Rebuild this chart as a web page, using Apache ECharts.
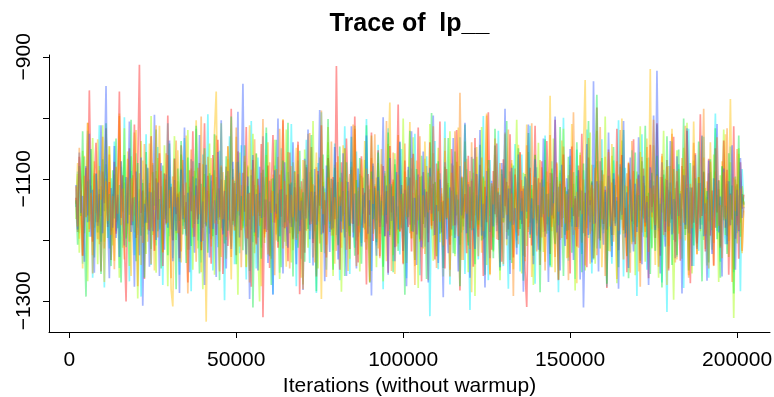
<!DOCTYPE html>
<html>
<head>
<meta charset="utf-8">
<script src="https://cdn.jsdelivr.net/npm/echarts@6/dist/echarts.min.js"></script>
<style>html,body{margin:0;padding:0;background:#fff;}#c{width:774px;height:397px;}</style>
</head>
<body>
<div id="c"></div>
<script>
// Iteration range (without warmup)
const firstIter = 2000;
const lastIter = 202000;
const xTicks = [0, 50000, 100000, 150000, 200000];
const yTicks = [-900, -1000, -1100, -1200, -1300];
const yTickLabels = [-900, -1100, -1300];

// lp__ draws per chain (read/estimated from the picture)
const chainRed = [
-1131,-1187,-1064,-1109,-1226,-1145,-1082,-1160,-955,-1118,-1203,-1097,-1041,-1171,-1125,-1252,-1088,-1140,-1017,-1179,
-1105,-1233,-1151,-1072,-1190,-1116,-957,-1164,-1094,-1208,-1301,-1127,-1050,-1176,-1139,-1011,-1197,-1083,-913,-1156,
-1119,-1264,-1076,-1142,-1185,-1030,-1128,-1218,-1099,-1167,-1058,-1136,-1243,-1091,-1173,-996,-1148,-1113,-1201,-1067,
-1158,-1124,-1230,-1045,-1102,-1182,-1138,-1270,-1086,-1153,-1022,-1195,-1111,-1166,-1074,-1217,-1133,-1009,-1178,-1095,
-1147,-1239,-1061,-1120,-1192,-1036,-1163,-1101,-1256,-1129,-1080,-1210,-1143,-985,-1169,-1107,-1225,-1055,-1137,-1184,
-1090,-1154,-1015,-1198,-1123,-1277,-1069,-1145,-1206,-1100,-1161,-1043,-1327,-1134,-1187,-1078,-1246,-1115,-1028,-1172,
-1141,-1213,-1093,-1162,-1004,-1181,-1126,-1235,-1057,-1150,-1199,-1114,-1170,-1039,-1289,-1104,-1157,-1221,-1081,-1132,
-1175,-1048,-1205,-1121,-1260,-1087,-1144,-1012,-1189,-1135,-1229,-1066,-1117,-1183,-1097,-1166,-915,-1138,-1249,-1073,
-1152,-1196,-1034,-1130,-1215,-1085,-1174,-998,-1143,-1237,-1106,-1063,-1180,-1123,-1273,-1092,-1159,-1024,-1202,-1112,
-1168,-1053,-1227,-1139,-1079,-1194,-1120,-1254,-1046,-1155,-1101,-1212,-1133,-978,-1186,-1110,-1240,-1070,-1149,-1179,
-1098,-1219,-1059,-1127,-1191,-1016,-1146,-1268,-1089,-1163,-1121,-1204,-1040,-1177,-1108,-1232,-1075,-1153,-1006,-1188,
-1136,-1247,-1084,-1160,-1208,-1051,-1118,-1176,-1020,-1142,-1283,-1096,-1165,-1125,-1222,-1062,-1181,-1103,-1244,-1033,
-1150,-1195,-1077,-1134,-1259,-1113,-1171,-991,-1140,-1216,-1087,-1158,-1042,-1200,-1126,-1236,-1068,-1145,-1105,-1183,
-1027,-1162,-1229,-1093,-1137,-1193,-1056,-1174,-1116,-1251,-1310,-1129,-1082,-1209,-1147,-1013,-1168,-1099,-1241,-1071,
-1156,-1186,-1038,-1124,-1223,-1091,-1165,-1003,-1141,-1266,-1108,-1179,-1060,-1135,-1199,-1117,-1255,-1047,-1161,-1132,
-1211,-1078,-1152,-1026,-1189,-1123,-1245,-1065,-1143,-1106,-1230,-1168,-983,-1131,-1201,-1086,-1174,-1118,-1279,-1052,
-1139,-1192,-1100,-1163,-1018,-1217,-1127,-1061,-1184,-1148,-1253,-1074,-1115,-1170,-1035,-1207,-1135,-1094,-1238,-1157,
-1083,-1178,-1128,-1263,-1044,-1146,-1111,-1197,-1009,-1160,-1226,-1097,-1137,-1187,-1069,-1250,-1121,-1166,-1031,-1203,
-1104,-1154,-1234,-1079,-1132,-1182,-1021,-1144,-1271,-1114,-1172,-1058,-1206,-1129,-994,-1161,-1089,-1219,-1148,-1067,
-1193,-1119,-1242,-1050,-1155,-1102,-1213,-1138,-1037,-1180,-1085,-1257,-1124,-1167,-1014,-1198,-1109,-1231,-1073,-1149,
-1126];
const chainOrange = [
-1112,-1178,-1049,-1141,-1226,-1095,-1163,-1008,-1187,-1123,-1255,-1071,-1150,-1199,-1086,-1134,-1031,-1214,-1104,-1169,
-1060,-1192,-1128,-1248,-1080,-1157,-993,-1176,-1116,-1232,-1145,-1067,-1203,-1099,-1170,-1024,-1138,-1276,-1091,-1160,
-1205,-1043,-1125,-1183,-1107,-1240,-1074,-1151,-1012,-1196,-1133,-1087,-1221,-1155,-1058,-1172,-1118,-1263,-1096,-1146,
-1037,-1189,-1121,-1219,-1069,-1164,-1106,-1288,-1139,-1052,-1180,-1127,-1236,-1082,-1158,-998,-1202,-1113,-1171,-1064,
-1148,-1211,-1093,-1173,-1029,-1135,-1252,-1078,-1166,-1119,-1195,-1046,-1142,-1228,-1101,-1184,-1016,-1153,-1090,-1245,
-1131,-1062,-1197,-1124,-1270,-1085,-1161,-1035,-1208,-1110,-1177,-1143,-1002,-1190,-1097,-1224,-1073,-1156,-1120,-1258,
-1084,-1167,-1018,-1140,-1214,-1103,-1179,-1056,-1247,-1126,-1163,-1089,-1200,-1044,-1152,-1117,-1281,-1070,-1185,-1136,
-1025,-1174,-1109,-1237,-1081,-1149,-1206,-988,-1158,-1122,-1261,-1098,-1170,-1039,-1193,-1130,-1218,-1063,-1145,-1105,
-1182,-1050,-1216,-1137,-1092,-1173,-1011,-1154,-1243,-1114,-1188,-1068,-1129,-1204,-1083,-1166,-1268,-1100,-1141,-1027,
-1198,-1119,-1230,-1076,-1160,-1134,-1005,-1186,-1108,-1251,-1057,-1148,-1211,-1093,-1175,-1125,-1238,-1042,-1162,-1111,
-1189,-1066,-1143,-1274,-1102,-1168,-1030,-1201,-1127,-1223,-1079,-1155,-1096,-1183,-1014,-1138,-1246,-1087,-1171,-1115,
-1209,-1054,-1164,-1132,-1260,-1090,-1177,-1022,-1146,-1194,-959,-1121,-1233,-1072,-1157,-1105,-1215,-1040,-1181,-1139,
-1094,-1227,-1150,-1065,-1186,-1116,-996,-1167,-1256,-1107,-1142,-1034,-1199,-1128,-1074,-1176,-1240,-1099,-1159,-1019,
-1170,-1124,-1292,-1083,-1145,-1207,-1058,-1153,-1112,-1235,-1045,-1187,-1131,-1009,-1165,-1097,-1219,-1137,-1069,-1196,
-1113,-1250,-1088,-1162,-1028,-1179,-1140,-1228,-1075,-1154,-1103,-1197,-1047,-1173,-1125,-1266,-1085,-1147,-991,-1184,
-1121,-1213,-1061,-1158,-1101,-1242,-1136,-1033,-1190,-1110,-1174,-1082,-1225,-1149,-1015,-1166,-1093,-1259,-1129,-1056,
-1178,-1106,-1203,-1144,-1071,-1185,-1020,-1160,-1232,-1117,-1091,-1168,-1254,-1038,-1139,-1195,-1100,-1152,-1277,-1064,
-1133,-1187,-1048,-1220,-1115,-1163,-1003,-1176,-1095,-1244,-1128,-1059,-1192,-1142,-1080,-1210,-1120,-1026,-1169,-1237,
-1087,-1151,-1199,-1066,-1172,-1013,-1138,-1262,-1108,-1181,-1041,-1157,-1224,-1097,-1164,-1118,-985,-1191,-1134,-1247,
-1072,-1159,-1205,-1111,-1032,-1177,-1143,-1230,-1089,-1166,-1017,-1202,-1126,-1269,-1098,-1153,-1051,-1184,-1116,-1218,
-1137];
const chainGold = [
-1141,-1074,-1198,-1119,-1247,-1062,-1163,-1008,-1182,-1128,-1225,-1091,-1156,-1035,-1207,-1112,-1173,-1269,-1099,-1150,
-1046,-1186,-1125,-1234,-1081,-1168,-997,-1145,-1213,-1106,-1177,-1055,-1139,-1259,-1094,-1160,-1020,-1192,-1117,-1241,
-1070,-1154,-1130,-1203,-1042,-1180,-1114,-1250,-1087,-1166,-1013,-1137,-1220,-1100,-1175,-1061,-1148,-1282,-1309,-1123,
-1189,-1053,-1158,-1237,-1108,-1171,-1029,-1143,-1216,-1083,-1195,-1134,-1004,-1167,-1101,-1253,-1076,-1152,-1334,-1120,
-1181,-1066,-1140,-1022,-957,-1174,-1115,-1228,-1089,-1160,-1200,-1047,-1133,-1265,-1097,-1185,-1031,-1149,-1211,-1110,
-1169,-1072,-1245,-1127,-1012,-1183,-1103,-1222,-1059,-1155,-1136,-1276,-1085,-1196,-1117,-1040,-1164,-1231,-1093,-1146,
-1201,-1064,-1178,-1121,-1002,-1157,-1244,-1108,-1173,-1079,-1217,-1138,-1049,-1190,-1113,-1262,-1069,-1161,-1132,-1026,
-1185,-1097,-1229,-1144,-1057,-1170,-1118,-1297,-1084,-1152,-1208,-1015,-1135,-1193,-1102,-1239,-1073,-1165,-1126,-1213,
-1045,-1158,-1104,-1251,-1129,-1080,-1188,-1018,-1147,-1224,-1092,-1176,-1133,-1038,-1199,-1111,-1270,-1066,-1151,-1182,
-1098,-1214,-1139,-1051,-1179,-1121,-1235,-1076,-975,-1162,-1105,-1256,-1144,-1028,-1187,-1116,-1218,-1088,-1166,-1131,
-1007,-1197,-1123,-1243,-1070,-1158,-1203,-1095,-1174,-1039,-1136,-1266,-1110,-1181,-1058,-1150,-1227,-1083,-1169,-1124,
-1212,-1033,-1163,-1107,-1249,-1142,-1078,-1191,-1119,-1016,-1177,-1233,-1097,-1154,-1067,-1204,-1135,-1286,-1090,-1160,
-1048,-1183,-1126,-1221,-1099,-1167,-993,-1140,-1258,-1112,-1196,-1061,-1148,-1115,-1237,-1084,-1172,-1024,-1209,-1132,
-1173,-1069,-1248,-1118,-1188,-1044,-1155,-1102,-1226,-1137,-1011,-1179,-1091,-1261,-1127,-1060,-1193,-1145,-1216,-1081,
-1159,-1236,-1105,-1175,-964,-1186,-1122,-1253,-1073,-1146,-1200,-1037,-1164,-1113,-1230,-1094,-1171,-1010,-1192,-1134,
-1271,-1086,-1157,-1205,-1052,-938,-1181,-1119,-1239,-1077,-1161,-1128,-1021,-1198,-1103,-1245,-1140,-1064,-1184,-1116,
-1219,-1043,-1169,-1130,-1264,-1096,-1153,-1001,-1190,-1111,-1227,-1072,-1144,-1207,-1087,-1176,-1124,-1252,-1056,-1162,
-1107,-1196,-1034,-1148,-920,-1183,-1125,-1241,-1092,-1167,-1211,-1063,-1138,-1100,-1274,-1079,-1158,-1018,-1189,-1115,
-1232,-1084,-1165,-1142,-1049,-1201,-1109,-1258,-1121,-1174,-1006,-1150,-1223,-1097,-1186,-1131,-1065,-1215,-1104,-1170,
-1040,-1147,-1243,-1088,-1180,-1117,-1210,-1071,-1163,-1027,-1194,-1133,-969,-1157,-1248,-1101,-1176,-1059,-1139,-1222,
-1152];
const chainYellowGreen = [
-1166,-1092,-1221,-1137,-1054,-1189,-1114,-1268,-1101,-1158,-1033,-1180,-1127,-1240,-1079,-1161,-1012,-1203,-1118,-1174,
-1047,-1150,-1209,-1093,-1171,-1130,-1262,-1071,-1155,-1017,-1196,-1108,-1243,-1063,-1142,-1188,-1099,-1296,-1124,-1038,
-1179,-1135,-1223,-1083,-1152,-997,-1192,-1119,-1254,-1066,-1167,-1112,-1207,-1045,-1140,-1276,-1096,-1183,-1128,-1030,
-1200,-1104,-1236,-1060,-1159,-1145,-1190,-1020,-1170,-1121,-1249,-1087,-1106,-1214,-1074,-1163,-1281,-1092,-1176,-1133,
-1042,-1199,-1116,-1257,-1097,-1164,-1138,-1009,-1185,-1102,-1231,-1068,-1153,-1211,-1084,-1172,-1125,-1290,-1057,-1148,
-1181,-1111,-1244,-1078,-1166,-1134,-1026,-1194,-1117,-1218,-1301,-1090,-1157,-1205,-1061,-1143,-1226,-1100,-1171,-1036,
-1191,-1123,-1264,-1086,-1154,-1203,-1019,-1168,-1110,-1237,-1073,-1144,-1197,-1094,-1177,-1131,-1273,-1052,-1160,-1213,
-1089,-1170,-1005,-1186,-1127,-1247,-1065,-1149,-1105,-1222,-1139,-1040,-1181,-1115,-1259,-1077,-1163,-1209,-1098,-1285,
-1132,-1050,-1187,-1146,-1231,-1081,-1165,-1013,-1201,-1120,-1252,-1095,-1157,-1069,-1216,-1136,-1178,-1029,-1190,-1109,
-1245,-1074,-1160,-1126,-1268,-1091,-1174,-1043,-1195,-1113,-1225,-1058,-1148,-1206,-1102,-1183,-1001,-1167,-1238,-1085,
-1152,-1198,-1032,-1175,-1118,-1279,-1097,-1162,-1214,-1067,-1143,-1189,-1010,-1158,-1234,-1106,-1171,-1049,-1204,-1129,
-1260,-1080,-1166,-1141,-1022,-1193,-1114,-1227,-1072,-1155,-1208,-1099,-1184,-1039,-1147,-1253,-1087,-1169,-1122,-1292,
-1064,-1178,-1134,-1015,-1199,-1103,-1241,-1083,-1161,-1119,-1219,-1046,-1176,-1138,-1266,-1092,-1154,-1027,-1187,-1111,
-1233,-1075,-1168,-1125,-1003,-1182,-1140,-1255,-1090,-1150,-1210,-1056,-1172,-1117,-1274,-1101,-1163,-1041,-1196,-1128,
-1220,-1069,-1157,-1185,-1107,-1245,-1034,-1173,-1131,-1265,-1086,-1144,-1018,-1191,-1121,-1229,-1077,-1166,-1108,-1283,
-1095,-1179,-1057,-1203,-1137,-1250,-1082,-1160,-1024,-1186,-1116,-1239,-1071,-1149,-1197,-1104,-1174,-998,-1156,-1218,
-1130,-1062,-1192,-1110,-1271,-1093,-1167,-1037,-1180,-1145,-1226,-1076,-1153,-1204,-1119,-1258,-1088,-1171,-1014,-1188,
-1126,-1236,-1066,-1162,-1102,-1214,-1045,-1177,-1134,-1262,-1097,-1155,-1021,-1195,-1113,-1247,-1079,-1168,-1298,-1142,
-1053,-1190,-1120,-1231,-1084,-1164,-1008,-1183,-1139,-1255,-1070,-1151,-1212,-1098,-1175,-1030,-1200,-1115,-1242,-1091,
-1158,-1216,-1060,-1180,-1127,-1269,-1094,-1146,-1019,-1192,-1108,-1228,-1073,-1165,-1328,-1136,-1206,-1050,-1172,-1112,
-1147];
const chainGreen = [
-1135,-1208,-1079,-1161,-1022,-1183,-1293,-1104,-1170,-1051,-1146,-1229,-1092,-1188,-1117,-1256,-1068,-1153,-1009,-1197,
-1125,-1243,-1086,-1165,-1034,-1181,-1110,-1270,-1140,-1061,-1212,-1098,-1159,-1003,-1176,-1130,-1235,-1074,-1149,-1193,
-1107,-1262,-1056,-1172,-1121,-1215,-1089,-1144,-1019,-1186,-1133,-1247,-1078,-1166,-1101,-1225,-1042,-1158,-1200,-1114,
-1281,-1083,-1169,-1038,-1191,-1127,-1238,-1065,-1152,-1210,-1096,-1174,-1013,-1139,-1255,-1108,-1180,-1050,-1162,-1221,
-1091,-1147,-1194,-1027,-1168,-1116,-1266,-1081,-1157,-1206,-1063,-1185,-1132,-998,-1175,-1103,-1240,-1072,-1160,-1128,
-1217,-1045,-1178,-1112,-1251,-1094,-1311,-1141,-1058,-1196,-1123,-1231,-1085,-1163,-1016,-1184,-1137,-1274,-1099,-1154,
-1036,-1203,-1118,-1245,-1070,-1171,-1129,-1008,-1189,-1106,-1260,-1087,-1148,-1213,-1054,-1167,-1122,-1236,-1077,-1182,
-1143,-1028,-1198,-1111,-1284,-1093,-1164,-1220,-1060,-1175,-1134,-1002,-1187,-1100,-1249,-1082,-1155,-1208,-1047,-1170,
-1120,-1259,-1073,-1161,-1194,-1031,-1145,-1226,-1102,-1177,-1066,-1239,-1126,-1183,-1012,-1150,-1270,-1088,-1166,-1115,
-1204,-1057,-1172,-1136,-1244,-1095,-1159,-1024,-1192,-1109,-1253,-1076,-1147,-1218,-1040,-1180,-1124,-1290,-1097,-1163,
-1021,-1186,-1131,-1233,-1084,-1157,-1199,-1062,-1174,-1117,-1264,-1090,-1151,-992,-1169,-1105,-1227,-1071,-1190,-1138,
-1246,-1080,-1166,-1033,-1195,-1119,-1222,-1055,-1160,-1134,-1276,-1098,-1178,-1011,-1152,-1209,-1113,-1184,-1067,-1240,
-1127,-1175,-1044,-1201,-1096,-1257,-1139,-1069,-1187,-1108,-1230,-1018,-1163,-1121,-1250,-1085,-1171,-1146,-1005,-1193,
-1116,-1238,-1078,-1156,-1213,-1050,-1182,-1132,-1267,-1092,-1165,-1025,-1197,-1110,-1226,-1061,-1173,-1143,-1286,-1101,
-1158,-1035,-1190,-1124,-1242,-1083,-1168,-1207,-1097,-1176,-1015,-1149,-1259,-1114,-1185,-1064,-1137,-1221,-1089,-1179,
-1040,-1162,-1118,-1253,-1075,-1194,-1130,-1005,-1171,-1104,-1232,-1087,-962,-1148,-1214,-1066,-1183,-1121,-1272,-1095,
-1155,-1210,-1048,-1173,-1136,-1245,-1080,-1167,-1020,-1189,-1112,-1263,-1101,-1160,-1203,-1057,-1179,-1127,-1234,-1071,
-1165,-1013,-1196,-1123,-1256,-1090,-1154,-1218,-1062,-1181,-1141,-1278,-1093,-1170,-1030,-1186,-1106,-1241,-1084,-1150,
-1225,-1052,-1177,-1128,-1001,-1192,-1115,-1250,-1074,-1163,-1209,-1099,-1174,-1039,-1145,-1268,-1088,-1157,-1120,-1237,
-1068,-1184,-1132,-1017,-1199,-1103,-1262,-1079,-1168,-1144,-1223,-1058,-1176,-1111,-1288,-1096,-1161,-1029,-1195,-1125,
-1142];
const chainCyan = [
-1146,-1088,-1189,-1127,-1239,-1064,-1162,-1021,-1195,-1111,-1262,-1094,-1171,-1140,-1012,-1203,-1118,-1278,-1076,-1157,
-1214,-1099,-1176,-1039,-1186,-1132,-1246,-1080,-1153,-999,-1198,-1123,-1268,-1087,-1165,-1225,-1058,-1180,-1136,-1293,
-1101,-1173,-1027,-1191,-1115,-1241,-1077,-1149,-1209,-1048,-1183,-1141,-1274,-1092,-1160,-1009,-1194,-1108,-1230,-1066,
-1169,-1126,-1257,-1083,-1177,-1033,-1145,-1216,-1113,-1284,-1071,-1166,-1018,-1201,-1121,-1237,-1060,-1174,-1138,-994,
-1190,-1103,-1250,-1086,-1156,-1212,-1054,-1181,-1129,-1299,-1095,-1168,-1030,-1193,-1114,-1240,-1073,-1150,-1222,-1045,
-1178,-1134,-1265,-1081,-1167,-1005,-1204,-1110,-1247,-1065,-1159,-1213,-1097,-1185,-1025,-1143,-1227,-1119,-1289,-1078,
-1163,-1125,-1254,-1050,-1179,-1148,-1210,-1089,-1172,-1010,-1196,-1107,-1276,-1070,-1152,-1231,-1100,-1184,-1036,-1139,
-1238,-1085,-1170,-1128,-1287,-1074,-1158,-991,-1187,-1116,-1249,-1061,-1174,-1137,-1217,-1042,-1192,-1105,-1266,-1090,
-1161,-1014,-1183,-1120,-1256,-1072,-1166,-1213,-1055,-1195,-1135,-1205,-1098,-1147,-1002,-1178,-1117,-1251,-1079,-1154,
-1209,-1044,-1190,-1130,-1281,-1087,-1172,-1017,-1182,-1112,-1235,-1068,-1162,-1145,-1224,-1051,-1194,-1102,-1263,-1122,
-1150,-1083,-1186,-1026,-1168,-1127,-1258,-1096,-1177,-1211,-1063,-1155,-1325,-1115,-1193,-1038,-1164,-1248,-1091,-1181,
-1135,-1006,-1199,-1110,-1273,-1075,-1169,-1223,-1121,-1176,-1032,-1188,-1131,-1256,-1084,-1159,-1315,-1100,-1184,-1049,
-1147,-1232,-1093,-1179,-997,-1196,-1128,-1266,-1069,-1165,-1217,-1113,-1172,-1021,-1189,-1141,-1243,-1078,-1157,-1280,
-1088,-1176,-1123,-1043,-1201,-1106,-1252,-1060,-1163,-1228,-1099,-1183,-1013,-1148,-1133,-1272,-1081,-1170,-1219,-1116,
-1187,-1029,-1174,-1134,-1245,-1071,-1155,-1206,-1102,-1286,-1090,-1166,-1000,-1192,-1120,-1234,-1062,-1178,-1143,-1264,
-1052,-1182,-1114,-1223,-1086,-1168,-1019,-1197,-1129,-1255,-1077,-1153,-1214,-1108,-1180,-1035,-1189,-1138,-1277,-1095,
-1171,-1239,-1070,-1160,-1121,-1004,-1191,-1101,-1260,-1082,-1177,-1142,-1221,-1053,-1174,-1126,-1292,-1092,-1152,-1027,
-1195,-1111,-1249,-1065,-1166,-1213,-1104,-1181,-1011,-1186,-1132,-1270,-1085,-1158,-1318,-1118,-1172,-1039,-1200,-1137,
-1228,-1076,-1164,-1149,-1279,-1094,-1182,-1018,-1190,-1115,-1243,-1061,-1154,-1218,-1107,-1175,-1031,-1193,-1130,-1262,
-1089,-1167,-1124,-993,-1185,-1140,-1236,-1080,-1171,-1207,-1103,-1178,-1047,-1151,-1253,-1112,-1189,-1127,-1284,-1084,
-1143];
const chainBlue = [
-1110,-1183,-1057,-1156,-1128,-1236,-1079,-1171,-1026,-1195,-1118,-1254,-1091,-1177,-1139,-1012,-1189,-1100,-948,-1165,
-1263,-1115,-1180,-1046,-1197,-1126,-1228,-1071,-1154,-1209,-1097,-1173,-1006,-1187,-1131,-1277,-1088,-1162,-1225,-1065,
-1308,-1141,-1172,-1082,-1244,-1122,-1186,-995,-1200,-1106,-1259,-1074,-1168,-1216,-1093,-1180,-1037,-1147,-1235,-1102,
-1185,-1130,-1287,-1085,-1166,-1016,-1193,-1123,-1253,-1068,-1151,-1221,-1099,-1174,-1028,-1203,-1137,-1274,-1077,-1159,
-1229,-1094,-1182,-1135,-1261,-1056,-1167,-1004,-1191,-1120,-1247,-1087,-1155,-1215,-1072,-1178,-1144,-990,-1196,-1113,
-944,-1169,-1224,-1096,-1297,-1152,-1061,-1188,-1125,-1250,-1080,-1164,-1030,-1182,-1134,-1238,-1103,-1174,-1290,-1086,
-1157,-1001,-1194,-1117,-1255,-1073,-1170,-1213,-1108,-1179,-1040,-1142,-1240,-1092,-1186,-1136,-1282,-1067,-1165,-1019,
-1199,-1121,-1242,-1084,-1175,-1140,-987,-1191,-1112,-1268,-1078,-1161,-1220,-1100,-1181,-1048,-1153,-1232,-1129,-1188,
-1058,-1167,-1259,-1105,-1177,-1014,-1196,-1124,-1247,-1083,-1156,-1211,-1115,-1173,-1029,-1190,-1135,-1291,-1075,-1160,
-1226,-1097,-1179,-1138,-999,-1194,-1111,-1257,-1066,-1169,-1128,-1235,-1089,-1183,-1039,-1154,-1218,-1118,-1276,-1080,
-1175,-1022,-1187,-1131,-1241,-1093,-1165,-1212,-1055,-1180,-1121,-1270,-1082,-1157,-996,-1192,-1143,-1238,-1101,-1172,
-1294,-1073,-1166,-1222,-1114,-1183,-1033,-1197,-1126,-1252,-1079,-1160,-1134,-1008,-1189,-1109,-1262,-1064,-1174,-1215,
-1092,-1168,-1020,-1193,-1141,-1278,-1087,-1157,-1230,-1103,-1178,-1045,-1186,-1123,-1245,-1074,-1164,-985,-1199,-1116,
-1256,-1082,-1175,-1148,-1224,-1060,-1167,-1120,-1285,-1096,-1154,-1011,-1191,-1132,-1240,-1068,-1180,-1216,-1106,-1163,
-1034,-1195,-1125,-1269,-1090,-1160,-1139,-998,-1188,-1113,-1250,-1077,-1171,-1210,-1099,-1184,-1051,-1149,-1233,-1128,
-1179,-1086,-1265,-1119,-1311,-1167,-1043,-1192,-1135,-1237,-940,-1173,-1104,-1252,-1071,-1162,-1208,-1112,-1183,-1024,
-1150,-1228,-1091,-1177,-1130,-1280,-1076,-1159,-1005,-1196,-1122,-1246,-1065,-1169,-1219,-1108,-1187,-1032,-1145,-1240,
-1095,-1172,-1138,-1274,-1081,-1155,-996,-1184,-923,-1117,-1255,-1073,-1166,-1211,-1102,-1178,-1038,-1191,-1133,-1230,
-1063,-1161,-1124,-1288,-1094,-1175,-1017,-1189,-1114,-1243,-1078,-1156,-1215,-1107,-1182,-1029,-1194,-1140,-1267,-1070,
-1170,-1223,-1099,-1180,-1010,-1188,-1129,-1260,-1083,-1159,-1207,-1104,-1176,-1045,-1150,-1249,-1118,-1186,-1066,-1164,
-1146];

// Drawing order (first is drawn at the bottom)
const chains = [chainCyan, chainYellowGreen, chainGold, chainRed, chainGreen, chainBlue, chainOrange];
const chainColors = [
  'rgba(0,240,255,0.45)',
  'rgba(160,255,0,0.45)',
  'rgba(255,191,0,0.45)',
  'rgba(255,0,0,0.40)',
  'rgba(0,230,60,0.42)',
  'rgba(40,80,255,0.42)',
  'rgba(255,128,0,0.42)'
];

const minus = v => (v < 0 ? '\u2212' + Math.abs(v) : String(v));
const font = '"Liberation Sans", Arial, Helvetica, sans-serif';

const series = chains.map((vals, ci) => ({
  type: 'line',
  showSymbol: false,
  symbol: 'none',
  silent: true,
  animation: false,
  lineStyle: { width: 1.7, color: chainColors[ci] },
  data: vals.map((v, i) => [firstIter + i * (lastIter - firstIter) / (vals.length - 1), v])
}));

const chart = echarts.init(document.getElementById('c'), null, { renderer: 'canvas' });
chart.setOption({
  backgroundColor: '#ffffff',
  animation: false,
  title: {
    text: 'Trace of  lp__',
    left: 409.5,
    top: 12,
    padding: 0,
    textAlign: 'center',
    textStyle: { fontFamily: font, fontSize: 25, fontWeight: 'bold', color: '#000' }
  },
  grid: { left: 49, right: 4, top: 55, bottom: 65, containLabel: false, outerBoundsMode: 'none' },
  xAxis: {
    type: 'value',
    min: -6080,
    max: 209860,
    name: 'Iterations (without warmup)',
    nameLocation: 'middle',
    nameGap: 43,
    nameTextStyle: { fontFamily: font, fontSize: 21, color: '#000' },
    axisLine: { show: true, onZero: false, lineStyle: { color: '#000', width: 1 } },
    axisTick: { show: true, length: 6, customValues: xTicks, lineStyle: { color: '#000', width: 1 } },
    axisLabel: { customValues: xTicks, fontFamily: font, fontSize: 21, color: '#000', margin: 18, formatter: v => String(v) },
    splitLine: { show: false }
  },
  yAxis: {
    type: 'value',
    min: -1351,
    max: -897,
    axisLine: { show: true, onZero: false, lineStyle: { color: '#000', width: 1 } },
    axisTick: { show: true, length: 6, customValues: yTicks, lineStyle: { color: '#000', width: 1 } },
    axisLabel: { customValues: yTickLabels, rotate: 90, fontFamily: font, fontSize: 21, color: '#000', margin: 14, formatter: minus },
    splitLine: { show: false }
  },
  series: series
});
</script>
</body>
</html>
